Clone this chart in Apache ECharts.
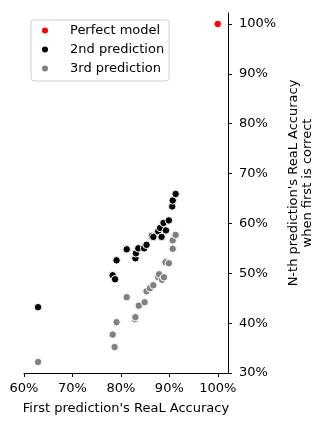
<!DOCTYPE html>
<html>
<head>
<meta charset="utf-8">
<script src="https://cdn.jsdelivr.net/npm/echarts@6/dist/echarts.min.js"></script>
<style>
  html, body { margin: 0; padding: 0; background: #fff; }
  #main { width: 323px; height: 423px; }
</style>
</head>
<body>
<div id="main"></div>
<script>
// 刻度
const xTicks = [60, 70, 80, 90, 100]
const yTicks = [30, 40, 50, 60, 70, 80, 90, 100]
// 数据 [first accuracy, n-th accuracy]
const perfect = [[100, 100]]
const second = [
  [62.9, 43.2], [78.3, 49.6], [78.8, 48.8], [79.1, 52.6], [81.2, 54.8],
  [83.0, 53.0], [83.1, 54.0], [83.6, 55.0], [84.8, 55.0], [85.3, 55.7],
  [86.4, 57.5], [86.7, 57.3], [87.7, 58.4], [88.1, 59.1], [88.4, 57.3],
  [88.8, 60.1], [89.3, 58.6], [89.9, 60.6], [90.6, 63.4], [90.7, 64.6],
  [91.3, 65.9]
]
const third = [
  [62.9, 32.2], [78.3, 37.7], [78.7, 35.2], [79.1, 40.2], [81.2, 45.2],
  [82.9, 40.8], [83.0, 41.2], [83.7, 43.5], [84.9, 44.2], [85.3, 46.4],
  [86.0, 47.0], [86.7, 47.6], [87.7, 49.2], [87.9, 49.8], [88.5, 48.7],
  [88.9, 49.2], [89.2, 52.2], [89.9, 52.0], [90.7, 54.9], [90.7, 56.6],
  [91.3, 57.7]
]

const font = 'DejaVu Sans'
const myChart = echarts.init(document.getElementById('main'), null, { renderer: 'canvas' })
const pct = (v) => v + '%'
const dot = (name, color, data) => ({
  name: name,
  type: 'scatter',
  data: data,
  symbol: 'circle',
  symbolSize: 7.5,
  itemStyle: { color: color, borderColor: '#fff', borderWidth: 1, opacity: 1 },
  emphasis: { disabled: true }
})
const option = {
  animation: false,
  textStyle: { fontFamily: font },
  grid: { left: 24, right: 90, top: 13, bottom: 50 },
  legend: {
    orient: 'vertical',
    left: 31,
    top: 20,
    padding: [3, 5, 5, 11],
    itemWidth: 14,
    itemHeight: 6,
    itemGap: 4,
    icon: 'circle',
    itemStyle: { borderWidth: 0 },
    borderColor: '#cccccc',
    borderWidth: 1,
    borderRadius: 3,
    textStyle: { fontFamily: font, fontSize: 13, color: '#000', lineHeight: 15, padding: [0, 0, 0, 13] },
    data: ['Perfect model', '2nd prediction', '3rd prediction']
  },
  xAxis: {
    type: 'value',
    min: 60,
    max: 102.1,
    name: "First prediction's ReaL Accuracy",
    nameLocation: 'middle',
    nameGap: 29,
    nameTextStyle: { fontFamily: font, fontSize: 13, color: '#000' },
    splitLine: { show: false },
    axisLine: { show: true, lineStyle: { color: '#000', width: 1 } },
    axisTick: { show: true, length: 4, lineStyle: { color: '#000' }, customValues: xTicks },
    axisLabel: { fontFamily: font, fontSize: 13, color: '#000', margin: 9, formatter: pct, customValues: xTicks }
  },
  yAxis: {
    type: 'value',
    position: 'right',
    min: 30,
    max: 102.2,
    name: "N-th prediction's ReaL Accuracy\nwhen first is correct",
    nameLocation: 'middle',
    nameRotate: 90,
    nameGap: 54,
    nameTextStyle: { fontFamily: font, fontSize: 13, color: '#000', align: 'center', lineHeight: 14, padding: [0, 0, 0, 20] },
    splitLine: { show: false },
    axisLine: { show: true, onZero: false, lineStyle: { color: '#000', width: 1 } },
    axisTick: { show: true, length: 4, lineStyle: { color: '#000' }, customValues: yTicks },
    axisLabel: { fontFamily: font, fontSize: 13, color: '#000', margin: 11, formatter: pct, customValues: yTicks }
  },
  series: [
    dot('Perfect model', '#ff0000', perfect),
    dot('2nd prediction', '#000000', second),
    dot('3rd prediction', '#808080', third)
  ]
}
myChart.setOption(option)
</script>
</body>
</html>
